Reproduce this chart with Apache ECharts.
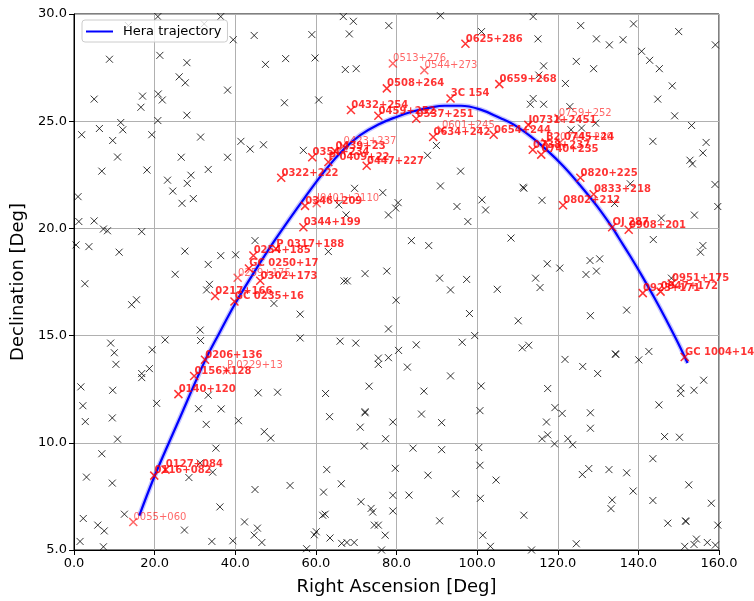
<!DOCTYPE html>
<html>
<head>
<meta charset="utf-8">
<script src="https://cdn.jsdelivr.net/npm/echarts@6/dist/echarts.min.js"></script>
<style>html,body{margin:0;padding:0;background:#fff}#c{width:754px;height:601px}</style>
</head>
<body>
<div id="c"></div>
<script>
// Trajectory (RA, Dec)
const trajRA  = [16.2,20,26,32.3,36,40,45,50,57.3,62.7,67,71,75.5,80,84,88,92,96,100.7,105.7,109,113.2,117.3,121.4,125.6,129.7,133.5,135,138,141,144,147,150,152.2];
const trajDec = [6.6,8.45,11.05,13.75,15.1,16.5,18.05,19.5,21.45,22.8,23.7,24.35,24.85,25.2,25.45,25.62,25.72,25.72,25.55,25.15,24.85,24.3,23.65,22.9,22.0,21.05,20.05,19.6,18.7,17.75,16.75,15.7,14.6,13.72];

// Background sources (black x)
const bgRA = [20.8,36.4,66.8,69.3,32.3,13.5,78.1,39.5,44.7,59.0,68.3,8.8,21.3,28.0,47.5,52.5,59.8,67.3,70.0,26.1,27.6,5.0,17.0,16.6,20.9,21.9,38.1,52.2,60.7,28.0,20.8,11.6,1.9,6.3,12.1,9.6,19.3,31.4,41.4,43.7,47.0,56.9,10.8,26.6,38.1,6.9,18.1,33.3,23.2,29.0,28.1,24.5,29.6,26.8,1.0,69.6,76.6,65.7,67.5,78.0,79.8,1.2,5.0,7.3,8.3,16.8,0.5,3.7,11.2,27.5,36.4,40.1,44.9,63.1,33.3,25.1,72.2,77.6,67.0,67.8,
2.7,33.6,32.9,49.6,14.3,15.5,79.9,56.1,78.0,31.3,31.4,22.6,9.1,10.0,19.4,56.1,66.0,69.9,75.5,78.0,75.5,80.5,10.4,18.7,16.8,16.8,1.7,9.6,33.3,45.7,50.5,62.4,73.2,2.2,20.5,30.9,36.5,63.4,72.2,72.2,2.8,9.5,32.8,40.8,71.0,79.1,47.2,48.8,10.8,77.3,72.0,6.9,35.2,62.7,79.7,3.1,9.5,28.5,34.4,31.3,44.9,53.6,66.3,61.9,79.1,71.2,73.7,74.1,79.1,12.5,2.3,5.9,7.5,36.2,42.3,45.5,44.7,46.6,39.4,34.2,27.4,61.7,62.3,60.1,59.6,63.5,66.4,67.7,69.5,74.5,75.5,77.2,57.7,76.3,1.5,7.3,
90.9,113.9,125.7,138.8,150.0,159.1,115.1,129.6,132.8,136.2,140.8,142.8,145.2,124.6,128.9,116.5,115.3,121.9,148.4,144.8,113.9,113.2,116.5,123.0,149.0,153.2,129.4,123.3,125.9,143.6,156.8,156.0,152.8,153.4,89.9,87.7,95.9,90.9,111.6,111.4,138.0,159.0,80.4,95.0,102.1,101.2,97.7,116.1,134.1,153.9,159.7,145.7,143.7,156.0,155.4,83.7,88.0,108.4,117.4,120.5,128.0,130.4,127.0,129.6,90.7,97.4,114.5,148.2,101.1,
93.4,105.0,115.6,98.1,110.2,128.1,137.1,84.9,96.3,99.4,111.2,112.8,121.8,134.3,134.4,140.1,142.6,82.7,93.4,126.2,129.9,86.8,101.0,117.5,150.5,150.5,153.8,156.2,145.1,86.2,91.2,100.7,119.3,121.1,128.1,117.2,117.5,116.1,119.2,122.5,123.7,128.1,146.5,150.2,84.1,91.2,100.4,100.7,87.8,104.7,83.1,94.7,100.8,126.1,127.7,132.7,137.1,143.6,138.7,133.5,133.2,143.6,152.5,158.1,90.7,111.6,101.4,103.3,113.5,124.6,147.3,151.7,151.8,159.7,154.4,153.8,151.5,157.1,159.1];
const bgDec = [29.88,29.88,29.88,29.66,29.54,29.46,29.46,28.80,29.0,29.04,29.07,27.89,28.07,27.73,27.65,27.92,27.95,27.41,27.45,27.07,26.79,26.03,26.17,25.65,26.27,25.99,26.45,25.86,25.99,25.28,25.03,24.94,24.37,24.66,24.60,24.10,24.37,24.26,24.06,23.70,23.90,23.64,23.33,23.32,23.32,22.67,22.72,22.75,22.25,22.48,22.10,21.74,21.39,21.17,21.48,21.87,21.67,21.10,20.63,20.63,20.95,20.32,20.35,19.97,19.89,19.85,19.23,19.15,18.89,18.94,18.73,18.77,19.43,18.92,18.32,17.86,17.89,18.01,17.55,17.55,
17.42,17.39,17.13,16.50,16.44,16.67,16.65,16.0,15.31,15.26,14.77,14.80,14.65,14.20,14.34,14.89,14.74,14.65,13.95,13.97,13.66,14.31,13.66,13.46,13.23,13.04,12.61,12.45,12.22,12.33,12.36,12.30,12.64,11.73,11.84,11.59,11.58,11.22,11.45,11.40,10.99,11.16,10.86,11.03,10.73,10.97,10.52,10.22,10.17,10.19,9.85,9.49,9.75,8.75,8.81,8.40,8.12,8.38,8.63,9.06,7.82,8.01,8.09,7.70,7.55,7.25,6.94,6.77,6.82,6.67,6.47,6.16,5.89,7.01,6.31,6.02,5.69,5.35,5.43,5.40,5.93,6.62,6.67,5.85,5.71,5.56,5.31,5.35,5.35,6.16,6.16,5.69,5.06,5.0,5.40,5.15,
29.92,29.88,29.46,29.54,29.18,28.56,28.84,28.84,28.56,28.80,28.26,27.84,27.45,27.79,27.45,27.58,27.15,26.76,26.65,26.03,26.06,25.79,25.79,25.68,25.25,24.80,24.91,24.60,24.68,24.06,24.01,23.52,23.18,23.01,23.87,23.41,22.67,21.98,21.87,21.92,22.08,22.05,21.20,21.02,20.86,21.33,20.32,21.31,21.16,20.62,21.02,20.48,19.48,19.20,18.89,19.43,19.20,19.55,18.35,18.15,18.50,18.58,17.85,18.01,17.68,17.62,17.68,17.68,29.18,
17.13,17.16,17.24,16.03,15.69,15.93,16.19,14.57,14.69,15.0,14.43,14.55,13.89,14.15,14.12,13.87,14.26,13.53,13.12,13.56,13.23,12.41,12.65,12.53,12.56,12.30,12.45,12.92,11.77,11.34,10.94,11.50,11.64,11.37,11.40,10.97,10.37,10.19,9.95,10.19,9.91,10.68,10.29,10.26,9.75,9.68,9.78,8.95,8.49,8.26,7.56,7.62,7.41,8.52,8.80,8.75,8.60,9.26,7.75,7.33,6.93,7.31,8.04,7.18,6.36,6.62,5.69,5.17,5.0,5.29,6.25,6.36,6.33,6.16,5.51,5.26,5.17,5.35,5.23];

// Bright calibrator sources (bold labels)
const brightNames = ['0625+286','0659+268','3C 154','0508+264','0432+254','0459+252','0537+251','0634+242','0654+244','J0731+2451','B2 0745+24','0738+237','0740+235','0354+234','0439+23','P 0409+22','0447+227','0322+222','0346+209','0344+199','P 0317+188','0254+185','GC 0250+17','0302+173','0217+166','GC 0235+16','0206+136','0156+128','0140+120','0127+084','0116+082','0820+225','0833+218','0802+212','OJ 287','0908+201','0951+175','0923+171','0947+172','GC 1004+14'];
const brightRA   = [97.1,105.5,93.4,77.6,68.7,75.5,84.9,89.1,104.1,112.7,117.0,113.8,115.9,59.1,64.8,63.1,72.6,51.4,57.3,56.9,50.1,44.5,43.4,46.2,35.0,39.8,32.5,29.8,25.9,22.7,19.9,125.6,128.9,121.3,133.5,137.6,148.3,141.1,145.5,151.5];
const brightDec  = [28.61,26.73,26.06,26.53,25.52,25.25,25.11,24.26,24.37,24.83,24.0,23.67,23.44,23.32,23.6,23.1,22.92,22.36,21.05,20.05,19.05,18.74,18.13,17.56,16.85,16.59,13.87,13.12,12.27,8.75,8.47,22.36,21.59,21.08,20.05,19.94,17.43,16.98,17.05,14.0];

// Fainter sources (light labels)
const faintNames = ['0513+276','0544+273','0423+237','0601+245','0759+252','0744+240','J0401+2110','0259+175','P 0229+13','0055+060'];
const faintRA    = [79.1,86.9,66.8,91.2,120.2,120.5,60.2,40.6,37.9,14.7];
const faintDec   = [27.69,27.38,23.83,24.59,25.15,24.0,21.17,17.7,13.38,6.31];

const xTicks = [0,20,40,60,80,100,120,140,160];
const yTicks = [5,10,15,20,25,30];

const XPATH = 'path://M0,0L10,10M10,0L0,10';
const FONT = 'DejaVu Sans';

const chart = echarts.init(document.getElementById('c'), null, {renderer:'canvas'});
const zip = (a,b)=>a.map((v,i)=>[v,b[i]]);
const named = (n,a,b)=>n.map((s,i)=>({name:s,value:[a[i],b[i]]}));

const labelCommon = {
  show:true, formatter:'{b}', position:[4,4], align:'left', verticalAlign:'bottom',
  offset:[1,1], fontFamily:FONT, fontSize:10
};

chart.setOption({
  animation:false,
  grid:{left:74,right:35,top:14,bottom:48,show:true,borderColor:'#000',borderWidth:1,backgroundColor:'transparent'},
  xAxis:{type:'value',min:xTicks[0],max:xTicks[xTicks.length-1],interval:20,
    name:'Right Ascension [Deg]',nameLocation:'middle',nameGap:28,
    nameTextStyle:{fontFamily:FONT,fontSize:18,color:'#000'},
    axisLine:{lineStyle:{color:'#000'}},axisTick:{length:5,lineStyle:{color:'#000'}},
    axisLabel:{formatter:v=>v.toFixed(1),fontFamily:FONT,fontSize:13,color:'#000',margin:7},
    splitLine:{show:true,lineStyle:{color:'#b0b0b0',width:1}}},
  yAxis:{type:'value',min:yTicks[0],max:yTicks[yTicks.length-1],interval:5,
    name:'Declination [Deg]',nameLocation:'middle',nameGap:44,nameRotate:90,
    nameTextStyle:{fontFamily:FONT,fontSize:18,color:'#000'},
    axisLine:{lineStyle:{color:'#000'}},axisTick:{length:5,lineStyle:{color:'#000'}},
    axisLabel:{formatter:v=>v.toFixed(1),fontFamily:FONT,fontSize:13,color:'#000',margin:7},
    splitLine:{show:true,lineStyle:{color:'#b0b0b0',width:1}}},
  legend:{data:[{name:'Hera trajectory',icon:'rect'}],left:82,top:20,orient:'vertical',
    itemWidth:27,itemHeight:2,backgroundColor:'rgba(255,255,255,0.8)',borderColor:'#ccc',borderWidth:1,borderRadius:3,
    padding:[5,6,4,4],textStyle:{fontFamily:FONT,fontSize:13,color:'#000',padding:[0,0,0,5]}},
  series:[
    {type:'scatter',name:'bg',data:zip(bgRA,bgDec),symbol:XPATH,symbolSize:7,
      itemStyle:{color:'#000',borderColor:'#000',borderWidth:1},z:2,silent:true},
    {type:'line',name:'halo',data:zip(trajRA,trajDec),smooth:0.4,showSymbol:false,
      lineStyle:{color:'rgba(90,90,255,0.35)',width:5},z:3,silent:true},
    {type:'line',name:'Hera trajectory',data:zip(trajRA,trajDec),smooth:0.4,showSymbol:false,
      lineStyle:{color:'#0000ff',width:2.2},itemStyle:{color:'#0000ff'},z:3},
    {type:'scatter',name:'faint',data:named(faintNames,faintRA,faintDec),symbol:XPATH,symbolSize:8,
      itemStyle:{color:'rgba(255,0,0,0.75)',borderColor:'rgba(255,0,0,0.75)',borderWidth:1.5},z:4,
      label:Object.assign({},labelCommon,{color:'rgba(255,0,0,0.75)',fontWeight:'normal'})},
    {type:'scatter',name:'bright',data:named(brightNames,brightRA,brightDec),symbol:XPATH,symbolSize:8,
      itemStyle:{color:'#ff0000',borderColor:'#ff0000',borderWidth:1.5},z:5,
      label:Object.assign({},labelCommon,{color:'#ff0000',fontWeight:'bold'})}
  ]
});
</script>
</body>
</html>
